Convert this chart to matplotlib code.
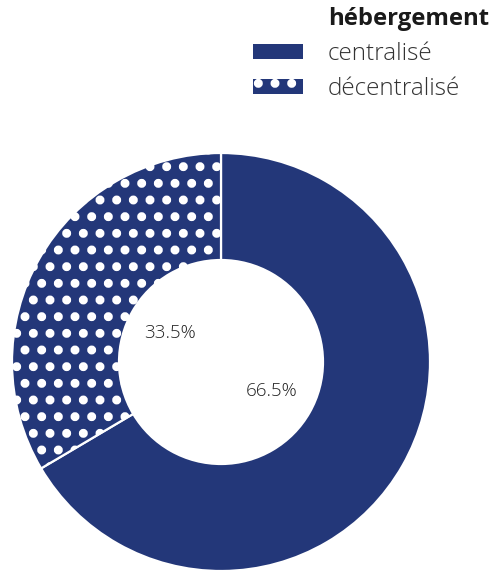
import matplotlib.pyplot as plt
from matplotlib.patches import Patch

plt.rcParams['font.family'] = ['Open Sans', 'DejaVu Sans']
plt.rcParams['hatch.linewidth'] = 4.0

labels = ['centralisé', 'décentralisé']
parts = [66.5, 33.5]
titre = 'hébergement'

navy = '#233779'
hatches = ['', '.']

fig = plt.figure(figsize=(4.96, 5.72), dpi=100)
ax = fig.add_axes([12/496, 1/572, 418/496, 418/572])

wedges, txt, pcts = ax.pie(parts, startangle=90, counterclock=False, radius=1,
                           colors=[navy, navy], autopct='%.1f%%', pctdistance=0.28,
                           wedgeprops=dict(width=0.512, edgecolor='white', linewidth=1.6),
                           textprops=dict(color='#222222', fontsize=13.5, fontweight='light'))
for w, h in zip(wedges, hatches):
    w.set_hatch(h)

ax.set_xlim(-1, 1)
ax.set_ylim(-1, 1)
ax.set_aspect('equal')
ax.axis('off')

# legende en haut a droite
handles = [Patch(facecolor=navy, edgecolor='white', hatch=h, linewidth=0) for h in hatches]
fig.legend(handles, labels, loc='upper left', bbox_to_anchor=(253/496, 1 - 42/572),
           frameon=False, prop=dict(size=17.5, weight='light'), handlelength=2.05,
           handleheight=0.55, handletextpad=1.0, labelspacing=0.45,
           labelcolor='#333333', borderpad=0, borderaxespad=0)
fig.text(328/496, 1 - 19/572, titre, fontsize=17.2, fontweight='bold',
         color='#1a1a1a', va='center', ha='left')

fig.savefig('out.png', dpi=100)
